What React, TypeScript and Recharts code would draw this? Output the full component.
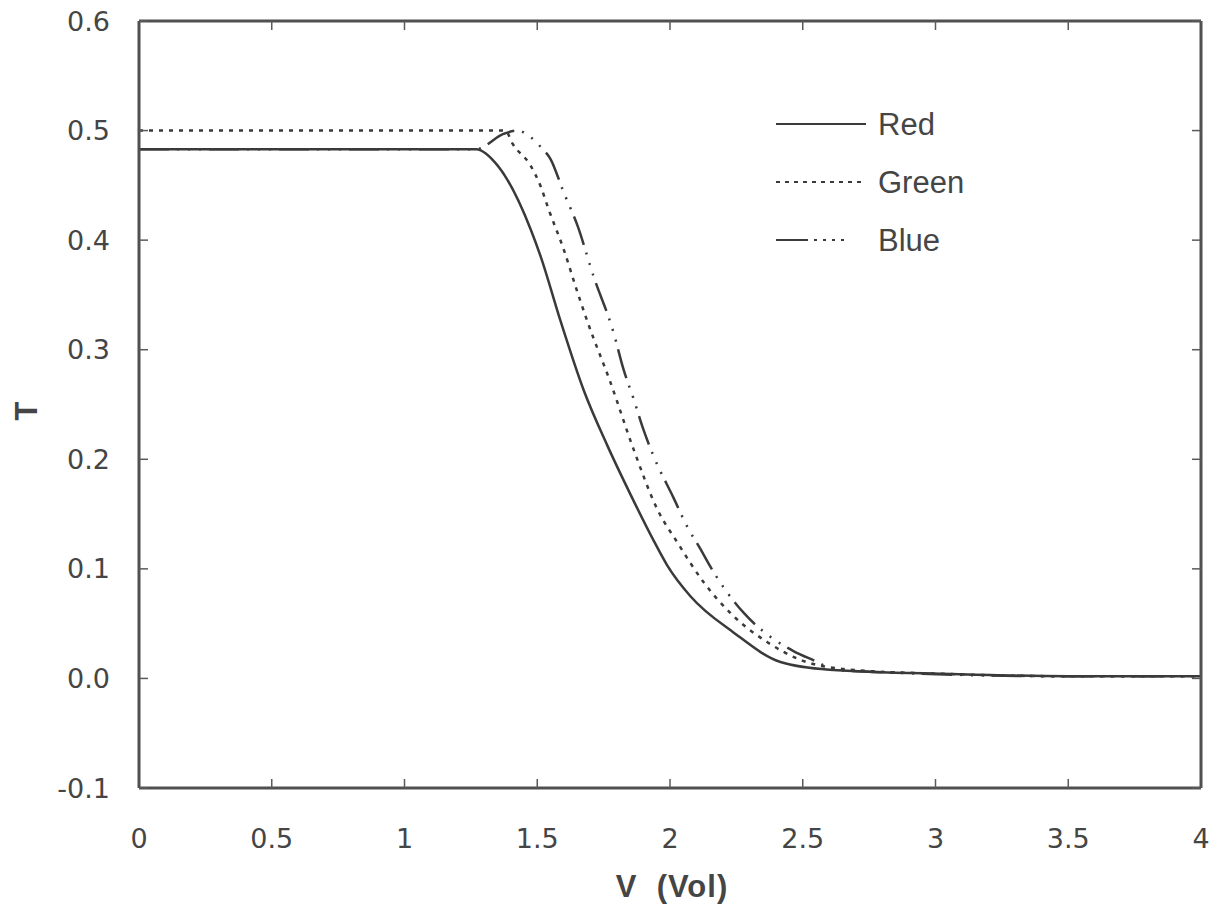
import React from "react";
import { LineChart, Line, XAxis, YAxis, Legend } from "recharts";

const V_RED = [0, 1.27, 1.351, 1.475, 1.513, 1.588, 1.675, 1.765, 1.851, 1.938, 1.99, 2.077, 2.239, 2.416, 2.6, 3.06, 3.5, 4];
const T_RED = [0.483, 0.483, 0.468, 0.41, 0.385, 0.326, 0.263, 0.212, 0.168, 0.126, 0.103, 0.075, 0.042, 0.015, 0.008, 0.004, 0.002, 0.002];

const V_GREEN = [0, 1.38, 1.407, 1.475, 1.513, 1.543, 1.599, 1.652, 1.69, 1.776, 1.863, 1.953, 2.028, 2.126, 2.239, 2.367, 2.491, 2.68, 3.06, 3.5, 4];
const T_GREEN = [0.5, 0.5, 0.488, 0.468, 0.449, 0.428, 0.392, 0.352, 0.325, 0.27, 0.209, 0.154, 0.124, 0.088, 0.057, 0.033, 0.017, 0.008, 0.004, 0.002, 0.002];

const V_BLUE = [0, 1.27, 1.373, 1.426, 1.475, 1.513, 1.55, 1.599, 1.652, 1.712, 1.787, 1.825, 1.863, 1.9, 1.938, 2.013, 2.066, 2.115, 2.152, 2.277, 2.378, 2.465, 2.555, 2.615, 2.87, 3.5, 4];
const T_BLUE = [0.483, 0.483, 0.497, 0.5, 0.494, 0.485, 0.474, 0.444, 0.413, 0.367, 0.316, 0.282, 0.255, 0.227, 0.203, 0.165, 0.138, 0.118, 0.102, 0.06, 0.038, 0.025, 0.015, 0.008, 0.005, 0.002, 0.002];

const X_TICKS = [0, 0.5, 1, 1.5, 2, 2.5, 3, 3.5, 4];
const Y_TICKS = [-0.1, 0, 0.1, 0.2, 0.3, 0.4, 0.5, 0.6];

const SERIES_NAMES = ["Red", "Green", "Blue"];
const LINE_COLOR = "#3a3a3a";
const DASHES = ["", "4 6", "30 8 2 9 2 9 2 8"];
const LEGEND_DASHES = ["", "4 5", "32 6 3 6 3 6 3 6 3 30"];

const toPoints = (xs: number[], ys: number[]) => xs.map((v, i) => ({ v, t: ys[i] }));
const DATA = [toPoints(V_RED, T_RED), toPoints(V_GREEN, T_GREEN), toPoints(V_BLUE, T_BLUE)];

const FONT = "'Liberation Sans', Arial, sans-serif";
const TICK_FONT = "'DejaVu Sans', sans-serif";
const TEXT_COLOR = "#454545";
const AXIS_LINE = { stroke: "#505050", strokeWidth: 3 };
const TICK_LINE = { stroke: "#5a5a5a", strokeWidth: 1.5 };

const renderLegend = () => (
  <div style={{ fontFamily: FONT }}>
    {SERIES_NAMES.map((name, i) => (
      <div key={name} style={{ display: "flex", alignItems: "center", height: 58 }}>
        <svg width={92} height={10}>
          <line x1={0} y1={5} x2={90} y2={5} stroke={LINE_COLOR} strokeWidth={2} strokeDasharray={LEGEND_DASHES[i]} />
        </svg>
        <span style={{ fontSize: 31, color: TEXT_COLOR, marginLeft: 10, lineHeight: "31px" }}>{name}</span>
      </div>
    ))}
  </div>
);

export default function App() {
  return (
    <div style={{ position: "absolute", left: 0, top: 0, width: 1213, height: 908, background: "#fff" }}>
      <LineChart width={1213} height={908} margin={{ top: 20, right: 11, bottom: 119, left: 138 }}>
        <XAxis
          xAxisId="b"
          dataKey="v"
          type="number"
          domain={[0, 4]}
          ticks={X_TICKS}
          height={1}
          axisLine={AXIS_LINE}
          tickLine={TICK_LINE}
          tickSize={-9}
          tickMargin={50}
          tick={{ fontSize: 27, fill: TEXT_COLOR, fontFamily: TICK_FONT }}
          interval={0}
          allowDataOverflow
        />
        <XAxis
          xAxisId="t"
          orientation="top"
          dataKey="v"
          type="number"
          domain={[0, 4]}
          ticks={X_TICKS}
          height={1}
          axisLine={AXIS_LINE}
          tickLine={TICK_LINE}
          tickSize={-9}
          tickFormatter={() => ""}
          interval={0}
          allowDataOverflow
        />
        <YAxis
          yAxisId="l"
          type="number"
          domain={[-0.1, 0.6]}
          ticks={Y_TICKS}
          width={1}
          axisLine={AXIS_LINE}
          tickLine={TICK_LINE}
          tickSize={-9}
          tickMargin={38}
          tickFormatter={(v: number) => v.toFixed(1)}
          tick={{ fontSize: 27, fill: TEXT_COLOR, fontFamily: TICK_FONT }}
          interval={0}
          allowDataOverflow
        />
        <YAxis
          yAxisId="r"
          orientation="right"
          type="number"
          domain={[-0.1, 0.6]}
          ticks={Y_TICKS}
          width={1}
          axisLine={AXIS_LINE}
          tickLine={TICK_LINE}
          tickSize={-9}
          tickFormatter={() => ""}
          interval={0}
          allowDataOverflow
        />
        {SERIES_NAMES.map((name, i) => (
          <Line
            key={name}
            name={name}
            data={DATA[i]}
            dataKey="t"
            xAxisId="b"
            yAxisId="l"
            type="monotone"
            stroke={LINE_COLOR}
            strokeWidth={2.5}
            strokeDasharray={DASHES[i] || undefined}
            dot={false}
            activeDot={false}
            isAnimationActive={false}
          />
        ))}
        <Legend
          layout="vertical"
          align="center"
          verticalAlign="middle"
          content={renderLegend}
          wrapperStyle={{ left: 776, top: 95, width: 260, height: 180 }}
        />
        <text x={672} y={897} textAnchor="middle" fontSize={31} fontWeight="bold" fill={TEXT_COLOR} fontFamily={FONT} letterSpacing={1}>
          {"V\u00a0 (Vol)"}
        </text>
        <text x={37} y={411} textAnchor="middle" fontSize={31} fontWeight="bold" fill={TEXT_COLOR} fontFamily={FONT} transform="rotate(-90 37 411)">
          T
        </text>
      </LineChart>
    </div>
  );
}
